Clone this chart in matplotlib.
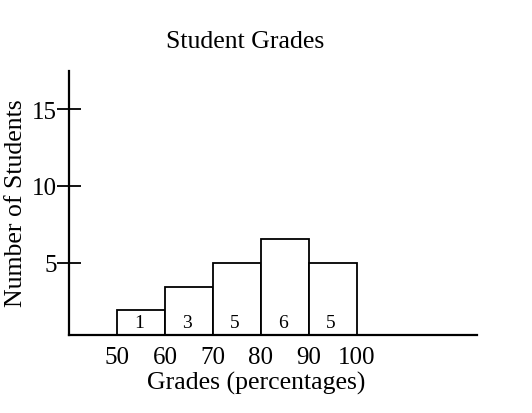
import matplotlib
matplotlib.use("Agg")
import matplotlib.pyplot as plt

# Data
bin_edges = [50, 60, 70, 80, 90, 100]
bar_heights = [1.9, 3.45, 5.0, 6.55, 5.0]
bar_labels = ["1", "3", "5", "6", "5"]
y_ticks = [5, 10, 15]
x_ticks = [50, 60, 70, 80, 90, 100]

plt.rcParams['font.family'] = ['Liberation Serif', 'DejaVu Serif']

fig = plt.figure(figsize=(5.32, 4.14), dpi=100)
ax = fig.add_axes([69/532, 1-335.7/414, (476.7-69)/532, (335.7-71.7)/414])

lefts = bin_edges[:-1]
widths = [b - a for a, b in zip(bin_edges[:-1], bin_edges[1:])]
ax.bar(lefts, bar_heights, width=widths, align='edge', color='white',
       edgecolor='black', linewidth=1.3, zorder=2)

for l, w, lab in zip(lefts, widths, bar_labels):
    ax.text(l + w/2 - 0.4, 1.1, lab, ha='center', va='center', fontsize=14)

ax.set_xlim(40, 125)
ax.set_ylim(0.32, 17.5)

for s in ['top', 'right']:
    ax.spines[s].set_visible(False)
for s in ['left', 'bottom']:
    ax.spines[s].set_linewidth(1.6)
    ax.spines[s].set_zorder(3)

ax.set_yticks(y_ticks)
ax.set_yticklabels([str(t) for t in y_ticks])
ax.tick_params(axis='y', direction='inout', length=17, width=1.3, pad=0.5, labelsize=18)
ax.set_xticks(x_ticks)
ax.set_xticklabels([str(t) for t in x_ticks])
ax.tick_params(axis='x', length=0, pad=8, labelsize=18)

fig.text(245/532, 1-42/414, "Student Grades", ha='center', va='center', fontsize=18.5)
fig.text(256/532, 1-383/414, "Grades (percentages)", ha='center', va='center', fontsize=18.5)
fig.text(16/532, 1-203/414, "Number of Students", ha='center', va='center', rotation=90, fontsize=18.5)

fig.savefig("out.png", dpi=100)
